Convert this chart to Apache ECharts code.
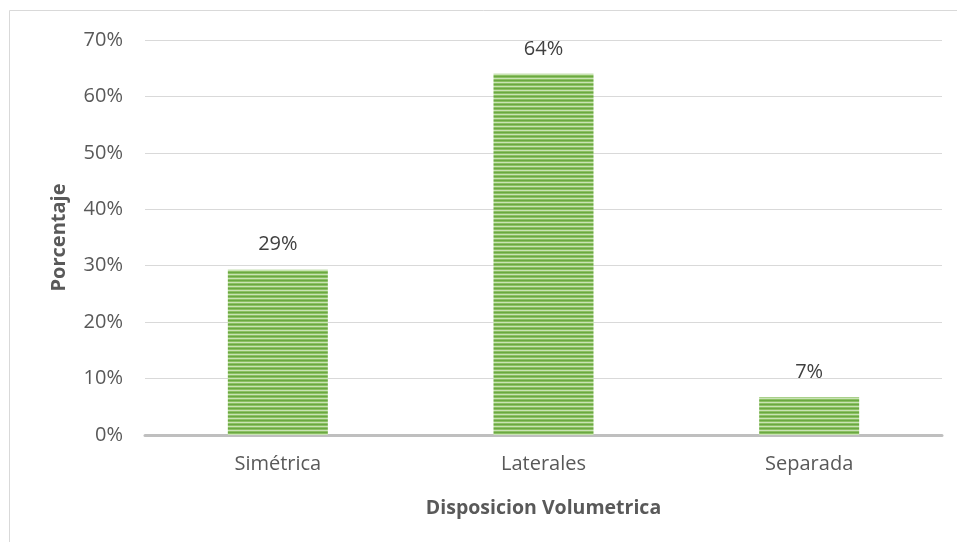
<!DOCTYPE html>
<html><head><meta charset="utf-8">
<script src="https://cdn.jsdelivr.net/npm/echarts@6/dist/echarts.min.js"></script>
<style>html,body{margin:0;padding:0;background:#fff}#c{width:957px;height:542px}</style>
</head><body><div id="c"></div>
<script>
const categories = ['Simétrica', 'Laterales', 'Separada'];
const values = [29.3, 64.0, 6.7];
const labels = ['29%', '64%', '7%'];
const yTicks = [0, 10, 20, 30, 40, 50, 60, 70];

const pc = document.createElement('canvas');
pc.width = 4; pc.height = 4;
const g = pc.getContext('2d');
const rows = ['#6aa842', '#8cc063', '#c9e3b5', '#8cc063'];
rows.forEach((c, i) => { g.fillStyle = c; g.fillRect(0, i, 4, 1); });

const chart = echarts.init(document.getElementById('c'), null, {renderer: 'canvas'});
const font = '"Open Sans", sans-serif';
chart.setOption({
  animation: false,
  graphic: [{type: 'rect', shape: {x: 9.5, y: 10.5, width: 960, height: 540},
    style: {fill: 'none', stroke: '#d9d9d9', lineWidth: 1}, silent: true}],
  grid: {left: 145, right: 15, top: 40, bottom: 107, containLabel: false},
  xAxis: {
    type: 'category', data: categories,
    name: 'Disposicion Volumetrica', nameLocation: 'middle', nameGap: 63,
    nameTextStyle: {fontFamily: font, fontSize: 19.5, fontWeight: 'bold', color: '#595959'},
    axisLine: {lineStyle: {color: '#bfbfbf', width: 3}},
    axisTick: {show: false},
    axisLabel: {fontFamily: font, fontSize: 20, color: '#595959', margin: 19}
  },
  yAxis: {
    type: 'value', min: 0, max: 70, interval: 10,
    name: 'Porcentaje', nameLocation: 'middle', nameGap: 76, nameRotate: 90,
    nameTextStyle: {fontFamily: font, fontSize: 20, fontWeight: 'bold', color: '#595959'},
    axisLine: {show: false}, axisTick: {show: false},
    splitLine: {lineStyle: {color: '#d9d9d9', width: 1}},
    axisLabel: {fontFamily: font, fontSize: 20, color: '#595959', margin: 22,
      formatter: v => yTicks.includes(v) ? v + '%' : ''}
  },
  series: [{
    type: 'bar', data: values, barWidth: 100,
    itemStyle: {color: {image: pc, repeat: 'repeat'}},
    label: {show: true, position: 'top', distance: 15, fontFamily: font, fontSize: 20, color: '#404040',
      formatter: p => labels[p.dataIndex]}
  }]
});
</script></body></html>
